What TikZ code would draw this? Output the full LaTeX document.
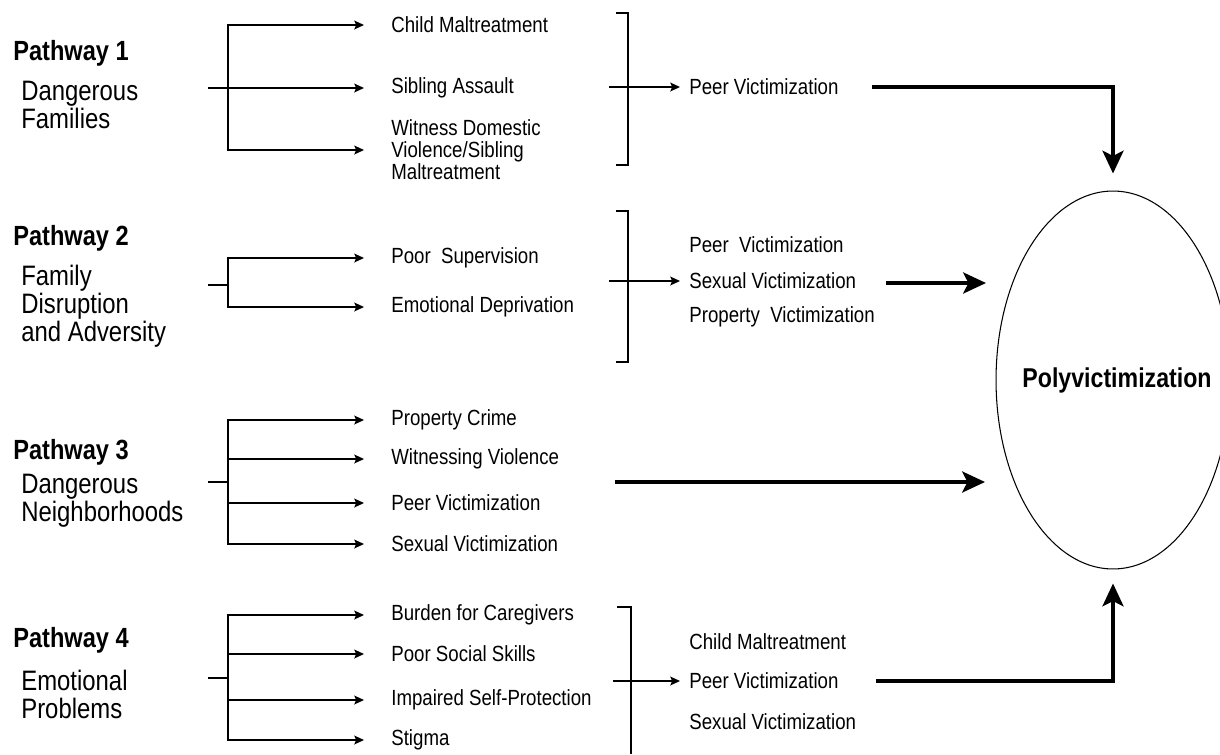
\documentclass[tikz,border=0pt]{standalone}
\usepackage{fontspec}
\setmainfont{Liberation Sans}[FakeStretch=0.85]
\usetikzlibrary{shapes.geometric, arrows.meta}
\tikzstyle{line} = [line width=0.75pt]
\tikzstyle{arrow} = [line width=0.75pt, -{Stealth[length=5.5pt, width=5pt, inset=1pt]}]
\tikzstyle{branch} = [arrow, shorten >=0.54cm]
\tikzstyle{feed} = [arrow, shorten >=0.18cm]
\tikzstyle{bigarrow} = [line width=2pt, -{Stealth[length=13pt, width=12pt, inset=3pt]}]
\tikzstyle{item} = [anchor=west, inner sep=0pt, align=left, font=\fontsize{12.5}{12.5}\selectfont]
\tikzstyle{path title} = [anchor=west, inner sep=0pt, font=\fontsize{15.8}{16}\selectfont\bfseries]
\tikzstyle{path text} = [anchor=west, inner sep=0pt, align=left, font=\fontsize{16}{16}\selectfont]

\begin{document}
\begin{tikzpicture}[x=0.02cm, y=-0.02cm]
\useasboundingbox (0,0) rectangle (1220,754);

\node (poly) [draw, ellipse, line width=0.6pt, minimum width=4.68cm, minimum height=7.56cm] at (1113,380) {};
\node (poly label) [font=\fontsize{15.5}{16}\selectfont\bfseries] at ([xshift=0.08cm]poly.center) {Polyvictimization};

% Pathway 1
\node (pathway one) [path title] at (13,53) {Pathway 1};
\node (dangerous families) [path text] at (21,105) {Dangerous\\Families};
\coordinate (stub one) at (208,88);
\coordinate (fork one) at (228,88);
\node (child maltreatment) [item] at (391,25) {Child Maltreatment};
\node (sibling assault) [item] at (391,88) {Sibling Assault};
\node (witness domestic) [item] at (391,150) {Witness Domestic\\Violence/Sibling\\Maltreatment};
\draw [branch] (fork one) |- (child maltreatment);
\draw [branch] (stub one) -- (sibling assault);
\draw [branch] (fork one) |- (witness domestic);
\draw [line] (616,13) -- (628,13) -- (628,165) -- (616,165);
\coordinate (in one) at (609,87);
\node (peer one) [item] at (689,87) {Peer Victimization};
\draw [feed] (in one) -- (peer one);
\coordinate (out one) at (872,87);
\draw [bigarrow, shorten >=0.34cm] (out one) -| (poly.north);

% Pathway 2
\node (pathway two) [path title] at (13,238) {Pathway 2};
\node (family disruption) [path text] at (21,306) {Family\\Disruption\\and Adversity};
\coordinate (stub two) at (208,285);
\coordinate (fork two) at (228,285);
\draw [line] (stub two) -- (fork two);
\node (poor supervision) [item] at (391,258) {Poor~ Supervision};
\node (emotional deprivation) [item] at (391,307) {Emotional Deprivation};
\draw [branch] (fork two) |- (poor supervision);
\draw [branch] (fork two) |- (emotional deprivation);
\draw [line] (616,211) -- (628,211) -- (628,362) -- (616,362);
\coordinate (in two) at (609,281);
\node (peer two) [item] at (689,245) {Peer~ Victimization};
\node (sexual two) [item] at (689,281) {Sexual Victimization};
\node (property two) [item] at (689,317) {Property~ Victimization};
\draw [feed] (in two) -- (sexual two);
\coordinate (out two) at (886,283);
\coordinate (end two) at (986,283);
\draw [bigarrow] (out two) -- (end two);

% Pathway 3
\node (pathway three) [path title] at (13,452) {Pathway 3};
\node (dangerous neighborhoods) [path text] at (21,501) {Dangerous\\Neighborhoods};
\coordinate (stub three) at (208,482);
\coordinate (fork three) at (228,482);
\draw [line] (stub three) -- (fork three);
\node (property crime) [item] at (391,420) {Property Crime};
\node (witnessing violence) [item] at (391,459) {Witnessing Violence};
\node (peer three) [item] at (391,503) {Peer Victimization};
\node (sexual three) [item] at (391,544) {Sexual Victimization};
\draw [branch] (fork three) |- (property crime);
\draw [branch] (fork three) |- (witnessing violence);
\draw [branch] (fork three) |- (peer three);
\draw [branch] (fork three) |- (sexual three);
\coordinate (out three) at (615,482);
\coordinate (end three) at (985,482);
\draw [bigarrow] (out three) -- (end three);

% Pathway 4
\node (pathway four) [path title] at (13,640) {Pathway 4};
\node (emotional problems) [path text] at (21,694) {Emotional\\Problems};
\coordinate (stub four) at (208,678);
\coordinate (fork four) at (228,678);
\draw [line] (stub four) -- (fork four);
\node (burden caregivers) [item] at (391,615) {Burden for Caregivers};
\node (poor social) [item] at (391,654) {Poor Social Skills};
\node (impaired protection) [item] at (391,700) {Impaired Self-Protection};
\node (stigma) [item] at (391,740) {Stigma};
\draw [branch] (fork four) |- (burden caregivers);
\draw [branch] (fork four) |- (poor social);
\draw [branch] (fork four) |- (impaired protection);
\draw [branch] (fork four) |- (stigma);
\draw [line] (617,607) -- (631,607) -- (631,754);
\coordinate (in four) at (613,681);
\node (child four) [item] at (689,642) {Child Maltreatment};
\node (peer four) [item] at (689,681) {Peer Victimization};
\node (sexual four) [item] at (689,722) {Sexual Victimization};
\draw [feed] (in four) -- (peer four);
\coordinate (out four) at (876,681);
\draw [bigarrow, shorten >=0.28cm] (out four) -| (poly.south);

\end{tikzpicture}
\end{document}
